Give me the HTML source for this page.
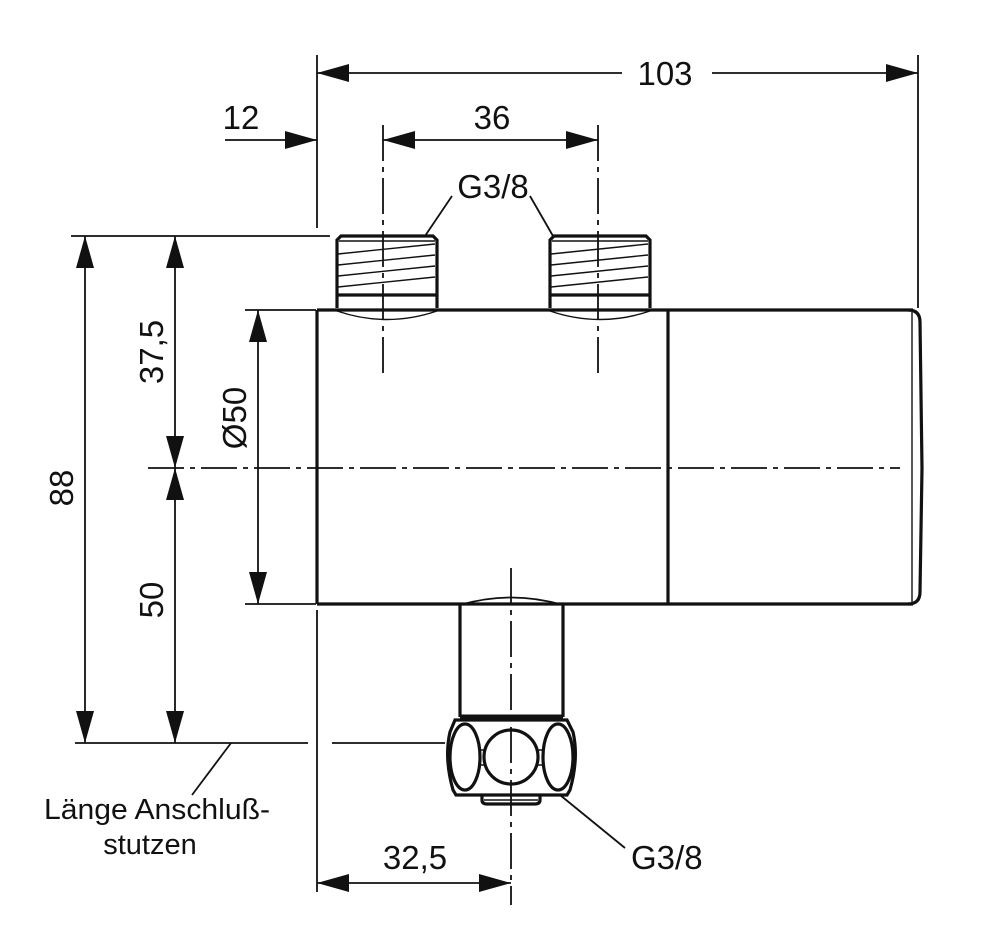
<!DOCTYPE html>
<html><head><meta charset="utf-8"><style>
html,body{margin:0;padding:0;background:#fff}
svg{display:block}
text{font-family:"Liberation Sans",Arial,sans-serif;fill:#111}
</style></head><body>
<svg width="993" height="950" viewBox="0 0 993 950" xmlns="http://www.w3.org/2000/svg">
<defs>
<marker id="a" viewBox="0 0 32 18" refX="32" refY="9" markerWidth="32" markerHeight="18" markerUnits="userSpaceOnUse" orient="auto-start-reverse"><path d="M0,0 L32,9 L0,18 Z" fill="#111"/></marker>
</defs>
<g stroke="#111" fill="none">
<g stroke-width="1.8">
<line x1="317" y1="55" x2="317" y2="228"/>
<line x1="317" y1="610" x2="317" y2="892"/>
<line x1="918" y1="55" x2="918" y2="308"/>
<line x1="71" y1="236" x2="330" y2="236"/>
<line x1="245" y1="310" x2="316" y2="310"/>
<line x1="245" y1="604" x2="316" y2="604"/>
<line x1="75" y1="743" x2="308" y2="743"/>
<line x1="332" y1="743" x2="445" y2="743"/>
<line x1="317" y1="73" x2="622" y2="73" marker-start="url(#a)"/>
<line x1="712" y1="73" x2="918" y2="73" marker-end="url(#a)"/>
<line x1="225" y1="140" x2="317" y2="140" marker-end="url(#a)"/>
<line x1="383" y1="140" x2="598" y2="140" marker-start="url(#a)" marker-end="url(#a)"/>
<line x1="85" y1="236" x2="85" y2="743" marker-start="url(#a)" marker-end="url(#a)"/>
<line x1="175" y1="236" x2="175" y2="468" marker-start="url(#a)" marker-end="url(#a)"/>
<line x1="175" y1="468" x2="175" y2="743" marker-start="url(#a)" marker-end="url(#a)"/>
<line x1="258" y1="310" x2="258" y2="604" marker-start="url(#a)" marker-end="url(#a)"/>
<line x1="317" y1="883" x2="511" y2="883" marker-start="url(#a)" marker-end="url(#a)"/>
<line x1="425" y1="236" x2="452" y2="196"/>
<line x1="553" y1="236" x2="530" y2="196"/>
<line x1="231" y1="743" x2="192" y2="795"/>
<line x1="560" y1="795" x2="625" y2="848"/>
</g>
<g stroke-width="1.8" stroke-dasharray="36,6,5,6">
<line x1="148" y1="468" x2="900" y2="468"/>
<line x1="383" y1="125" x2="383" y2="378"/>
<line x1="598" y1="125" x2="598" y2="378"/>
<line x1="511" y1="568" x2="511" y2="905"/>
</g>
<g stroke-width="3.2">
<line x1="317" y1="310" x2="913" y2="310"/>
<line x1="317" y1="604" x2="913" y2="604"/>
<line x1="317" y1="310" x2="317" y2="604"/>
<line x1="668" y1="310" x2="668" y2="604"/>
<path d="M908,310 Q920,310 920,322 L922,468 L920,592 Q920,604 908,604"/>
</g>
<line x1="912" y1="312" x2="912" y2="602" stroke-width="1.4"/>
<g stroke-width="3.2">
<path d="M337,308 L337,240 L341,236 L433,236 L437,240 L437,308"/>
<path d="M550,308 L550,240 L554,236 L646,236 L650,240 L650,308"/>
<line x1="338" y1="295" x2="436" y2="295"/>
<line x1="551" y1="295" x2="649" y2="295"/>
</g>
<g stroke-width="1.4">
<line x1="339" y1="241" x2="435" y2="241"/>
<line x1="552" y1="241" x2="648" y2="241"/>
<path d="M338,254 L435,244 M338,265 L435,255 M338,276 L435,266 M338,287 L435,277"/>
<path d="M551,254 L648,244 M551,265 L648,255 M551,276 L648,266 M551,287 L648,277"/>
<path d="M337,311 Q387,328 437,311"/>
<path d="M550,311 Q600,328 650,311"/>
</g>
<g stroke-width="3.2">
<path d="M460,604 L460,717 M563,604 L563,717"/>
<path d="M460,605 Q511,590 563,605" stroke-width="1.8"/>
<line x1="460" y1="717" x2="563" y2="717" stroke-width="5"/>
<path d="M455,720 L567,720 L573,732 Q579,758 570,790 L567,795 L456,795 L453,790 Q444,758 450,732 Z"/>
<ellipse cx="465" cy="757" rx="15" ry="33"/>
<ellipse cx="558" cy="757" rx="15" ry="33"/>
<circle cx="511" cy="757" r="27"/>
<path d="M482,795 L482,800 Q482,804 487,804 L535,804 Q540,804 540,800 L540,795"/>
</g>
<g stroke-width="1.5">
<path d="M480,750 L486,750 M480,765 L486,765 M537,750 L543,750 M537,765 L543,765"/>
<line x1="484" y1="800" x2="538" y2="800"/>
</g>
</g>
<g font-size="33">
<text x="665" y="85" text-anchor="middle">103</text>
<text x="241" y="129" text-anchor="middle">12</text>
<text x="492" y="129" text-anchor="middle">36</text>
<text x="493" y="198" text-anchor="middle">G3/8</text>
<text x="631" y="869">G3/8</text>
<text x="415" y="869" text-anchor="middle">32,5</text>
<text transform="translate(73,488) rotate(-90)" text-anchor="middle">88</text>
<text transform="translate(163,352) rotate(-90)" text-anchor="middle">37,5</text>
<text transform="translate(163,600) rotate(-90)" text-anchor="middle">50</text>
<text transform="translate(246,418) rotate(-90)" text-anchor="middle">Ø50</text>
</g>
<g font-size="29">
<text x="44" y="819" textLength="226" lengthAdjust="spacingAndGlyphs">Länge Anschluß-</text>
<text x="150" y="854" text-anchor="middle">stutzen</text>
</g>
</svg>
</body></html>
